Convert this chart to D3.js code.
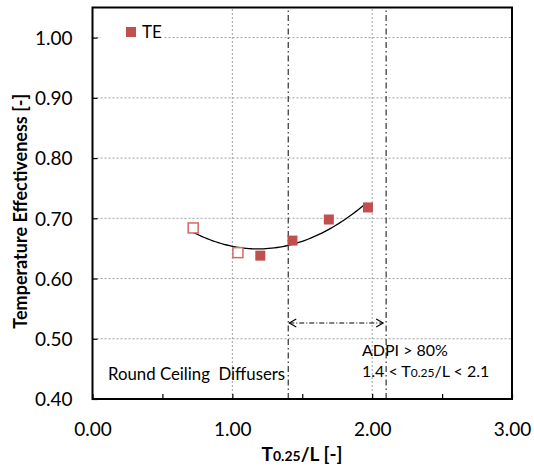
<!DOCTYPE html>
<html>
<head>
<meta charset="utf-8">
<script src="https://cdn.jsdelivr.net/npm/d3@7"></script>
<style>
  body { margin: 0; background: #fff; }
  text { font-family: Lato, "Open Sans", sans-serif; fill: #000; }
</style>
</head>
<body>
<div id="chart"></div>
<script>
// values
const ratioValues = [0.72, 1.04, 1.20, 1.43, 1.69, 1.97];   // T0.25/L
const teValues = [0.684, 0.643, 0.638, 0.663, 0.698, 0.718]; // temperature effectiveness
const openMarker = [true, true, false, false, false, false];
const xTicks = [0, 1, 2, 3];
const xMinorTicks = [0.5, 1.5, 2.5];
const yTicks = [0.4, 0.5, 0.6, 0.7, 0.8, 0.9, 1.0];
const adpiRange = [1.4, 2.1];
const seriesName = "TE";

const width = 534, height = 470;
const margin = { top: 7.5, right: 22, bottom: 71, left: 92.5 };
const red = "#c0504d";

const svg = d3.select("#chart").append("svg")
  .attr("width", width)
  .attr("height", height);

const x = d3.scaleLinear().domain([0, 3]).range([margin.left, width - margin.right]);
const y = d3.scaleLinear().domain([0.4, 1.05]).range([height - margin.bottom, margin.top]);

/* grid */
svg.append("g").selectAll("line")
  .data(yTicks.filter(d => d > 0.4))
  .join("line")
  .attr("x1", x(0)).attr("x2", x(3))
  .attr("y1", d => y(d)).attr("y2", d => y(d))
  .attr("stroke", "#a0a0a0").attr("stroke-width", 1)
  .attr("stroke-dasharray", "2,2");
svg.append("g").selectAll("line")
  .data([1, 2])
  .join("line")
  .attr("x1", d => x(d)).attr("x2", d => x(d))
  .attr("y1", y(0.4)).attr("y2", y(1.05))
  .attr("stroke", "#a0a0a0").attr("stroke-width", 1)
  .attr("stroke-dasharray", "2,2");

/* ADPI range lines */
svg.append("g").selectAll("line")
  .data(adpiRange)
  .join("line")
  .attr("x1", d => x(d)).attr("x2", d => x(d))
  .attr("y1", y(0.4)).attr("y2", y(1.05))
  .attr("stroke", "#404040").attr("stroke-width", 1.3)
  .attr("stroke-dasharray", "6,3,1.5,3");

/* axes */
const xAxis = d3.axisBottom(x).tickValues(xTicks.concat(xMinorTicks))
  .tickSize(-5).tickPadding(24).tickFormat(d => xTicks.includes(d) ? d3.format(".2f")(d) : "");
const gx = svg.append("g")
  .attr("transform", `translate(0,${y(0.4)})`)
  .call(xAxis);
const yAxis = d3.axisLeft(y).tickValues(yTicks).tickSize(-5).tickPadding(20).tickFormat(d3.format(".2f"));
const gy = svg.append("g")
  .attr("transform", `translate(${x(0)},0)`)
  .call(yAxis);
[gx, gy].forEach(g => {
  g.select(".domain").remove();
  g.selectAll(".tick line").attr("stroke", "#000").attr("stroke-width", 1.2);
  g.selectAll(".tick text").style("font-size", "19px").attr("fill", "#000");
});
gy.selectAll(".tick text").attr("dy", "0.36em");

/* plot frame */
svg.append("rect")
  .attr("x", x(0)).attr("y", y(1.05))
  .attr("width", x(3) - x(0)).attr("height", y(0.4) - y(1.05))
  .attr("fill", "none").attr("stroke", "#000").attr("stroke-width", 2);

/* legend */
svg.append("rect").attr("x", 101).attr("y", 20).attr("width", 62).attr("height", 26).attr("fill", "#fff");
svg.append("rect").attr("x", 126).attr("y", 27).attr("width", 10).attr("height", 10).attr("fill", red);
svg.append("text").attr("x", 142).attr("y", 38).style("font-size", "17px").text(seriesName);

/* quadratic trendline (least squares on the data) */
const n = ratioValues.length;
const S = k => d3.sum(ratioValues, v => Math.pow(v, k));
const T = k => d3.sum(ratioValues, (v, i) => Math.pow(v, k) * teValues[i]);
const M = [[n, S(1), S(2)], [S(1), S(2), S(3)], [S(2), S(3), S(4)]];
const B = [T(0), T(1), T(2)];
function solve3(A, b) {
  const a = A.map((r, i) => r.concat([b[i]]));
  for (let i = 0; i < 3; i++) {
    for (let j = i + 1; j < 3; j++) {
      const f = a[j][i] / a[i][i];
      for (let k = i; k < 4; k++) a[j][k] -= f * a[i][k];
    }
  }
  const out = [0, 0, 0];
  for (let i = 2; i >= 0; i--) {
    let s = a[i][3];
    for (let k = i + 1; k < 3; k++) s -= a[i][k] * out[k];
    out[i] = s / a[i][i];
  }
  return out;
}
const coef = solve3(M, B);
const xs = d3.range(d3.min(ratioValues), d3.max(ratioValues) + 0.001, 0.02);
svg.append("path")
  .attr("d", d3.line().x(d => x(d)).y(d => y(coef[0] + coef[1] * d + coef[2] * d * d))(xs))
  .attr("fill", "none").attr("stroke", "#000").attr("stroke-width", 1.3);

/* markers */
svg.append("g").selectAll("rect")
  .data(ratioValues)
  .join("rect")
  .attr("x", d => x(d) - 5).attr("y", (d, i) => y(teValues[i]) - 5)
  .attr("width", 10).attr("height", 10)
  .attr("fill", (d, i) => openMarker[i] ? "#fff" : red)
  .attr("stroke", (d, i) => openMarker[i] ? "#d06a67" : "none")
  .attr("stroke-width", 1.5);

/* ADPI arrow */
const arrowY = 323;
const ax0 = x(adpiRange[0]) + 1, ax1 = x(adpiRange[1]) - 3;
svg.append("line")
  .attr("x1", ax0).attr("x2", ax1)
  .attr("y1", arrowY).attr("y2", arrowY)
  .attr("stroke", "#000").attr("stroke-width", 1)
  .attr("stroke-dasharray", "5,2,1,2");
svg.append("path")
  .attr("d", `M${ax0 + 7},${arrowY - 4}L${ax0},${arrowY}L${ax0 + 7},${arrowY + 4}` +
    `M${ax1 - 7},${arrowY - 4}L${ax1},${arrowY}L${ax1 - 7},${arrowY + 4}`)
  .attr("fill", "none").attr("stroke", "#000").attr("stroke-width", 1.1);

/* annotations */
svg.append("text").attr("x", 108).attr("y", 380).style("font-size", "16.8px")
  .attr("xml:space", "preserve").text("Round Ceiling  Diffusers");
svg.append("text").attr("x", 362).attr("y", 356).style("font-size", "16px").text("ADPI > 80%");
const t2 = svg.append("text").attr("x", 362).attr("y", 377).style("font-size", "16px");
t2.append("tspan").text("1.4 < T");
t2.append("tspan").style("font-size", "12px").text("0.25");
t2.append("tspan").text("/L < 2.1");

/* axis titles */
const xt = svg.append("text").attr("x", 302).attr("y", 461).attr("text-anchor", "middle")
  .style("font-size", "19px").style("font-weight", "bold");
xt.append("tspan").text("T");
xt.append("tspan").style("font-size", "14px").text("0.25");
xt.append("tspan").text("/L [-]");
svg.append("text")
  .attr("transform", `translate(27,${(y(0.4) + y(1.05)) / 2 + 8}) rotate(-90)`)
  .attr("text-anchor", "middle")
  .style("font-size", "18px").style("font-weight", "bold")
  .text("Temperature Effectiveness [-]");
</script>
</body>
</html>
